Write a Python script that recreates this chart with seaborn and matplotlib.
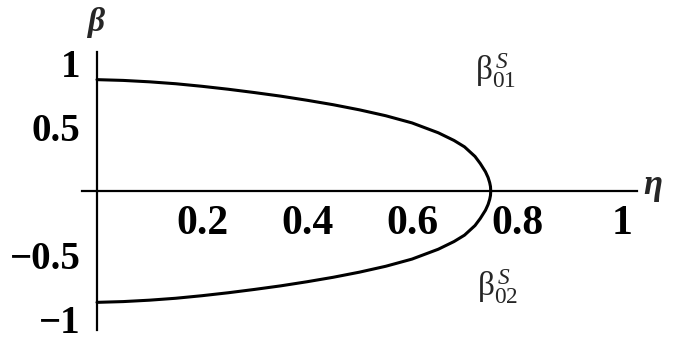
import matplotlib
matplotlib.use("Agg")
import matplotlib.pyplot as plt
import seaborn as sns
import pandas as pd
from matplotlib.ticker import FixedLocator, MultipleLocator

# Stationary branches beta_01^S (upper) and beta_02^S (lower) versus eta
eta_upper = [0.00, 0.05, 0.10, 0.15, 0.20, 0.25, 0.30, 0.35, 0.40, 0.45, 0.50,
             0.55, 0.60, 0.65, 0.68, 0.70, 0.72, 0.73, 0.74, 0.745, 0.748, 0.7495, 0.75]
beta_upper = [0.870, 0.864, 0.853, 0.838, 0.818, 0.795, 0.769, 0.741, 0.709, 0.674, 0.634,
              0.588, 0.532, 0.455, 0.395, 0.345, 0.270, 0.215, 0.150, 0.105, 0.065, 0.035, 0.000]
eta_lower = [0.00, 0.05, 0.10, 0.15, 0.20, 0.25, 0.30, 0.35, 0.40, 0.45, 0.50,
             0.55, 0.60, 0.65, 0.68, 0.70, 0.72, 0.73, 0.74, 0.745, 0.748, 0.7495, 0.75]
beta_lower = [-0.870, -0.864, -0.853, -0.838, -0.818, -0.795, -0.769, -0.741, -0.709, -0.674, -0.634,
              -0.588, -0.532, -0.455, -0.395, -0.345, -0.270, -0.215, -0.150, -0.105, -0.065, -0.035, 0.000]

x_ticks = [0.2, 0.4, 0.6, 0.8, 1.0]
x_tick_labels = ["0.2", "0.4", "0.6", "0.8", "1"]
y_ticks = [-1.0, -0.5, 0.5, 1.0]
y_tick_labels = ["\u22121", "\u22120.5", "0.5", "1"]

sns.set_style("white")
plt.rcParams["font.family"] = ["Liberation Serif", "DejaVu Serif"]
plt.rcParams["mathtext.fontset"] = "custom"
plt.rcParams["mathtext.rm"] = "Liberation Serif"
plt.rcParams["mathtext.it"] = "Liberation Serif:italic"
plt.rcParams["mathtext.bf"] = "Liberation Serif:bold"

df = pd.concat([
    pd.DataFrame({"eta": eta_upper, "beta": beta_upper, "branch": "01"}),
    pd.DataFrame({"eta": eta_lower, "beta": beta_lower, "branch": "02"}),
], ignore_index=True)

fig = plt.figure(figsize=(6.74, 3.39), dpi=100)
ax = fig.add_axes([82 / 674, 9 / 339, 555 / 674, 278 / 339])

sns.lineplot(data=df, x="eta", y="beta", units="branch", estimator=None, sort=False,
             color="black", linewidth=2.2, solid_capstyle="round", ax=ax)

ax.set_xlim(-0.0286, 1.0286)
ax.set_ylim(-1.086, 1.086)
ax.set_xlabel("")
ax.set_ylabel("")

# Axes crossing at the origin
for side in ("top", "right"):
    ax.spines[side].set_visible(False)
for side in ("left", "bottom"):
    ax.spines[side].set_position(("data", 0))
    ax.spines[side].set_linewidth(1.6)
    ax.spines[side].set_color("black")

ax.xaxis.set_major_locator(FixedLocator(x_ticks))
ax.set_xticklabels(x_tick_labels, fontweight="bold", fontsize=30)
ax.yaxis.set_major_locator(FixedLocator(y_ticks))
ax.set_yticklabels(y_tick_labels, fontweight="bold", fontsize=28)
ax.xaxis.set_minor_locator(MultipleLocator(0.05))
ax.yaxis.set_minor_locator(MultipleLocator(0.1))

ax.tick_params(axis="x", which="major", direction="in", length=4, width=0.8, pad=10, colors="black")
ax.tick_params(axis="y", which="major", direction="in", length=4, width=0.8, pad=12, colors="black")
ax.tick_params(which="minor", direction="in", length=2, width=0.5, color="#999999")

# Axis names
fig.text(96 / 674, 1 - 22 / 339, "\u03b2", fontsize=24, fontweight="bold", fontstyle="italic",
         ha="center", va="center")
fig.text(643 / 674, 1 - 186 / 339, "\u03b7", fontsize=25, fontweight="bold", fontstyle="italic",
         ha="left", va="center")

# Branch labels
ax.text(0.72, 0.87, r"$\mathrm{\beta}_{01}^{\,S}$", fontsize=24, ha="left", va="baseline")
ax.text(0.723, -0.82, r"$\mathrm{\beta}_{02}^{\,S}$", fontsize=24, ha="left", va="baseline")

fig.savefig("out.png", dpi=100, facecolor="white")
